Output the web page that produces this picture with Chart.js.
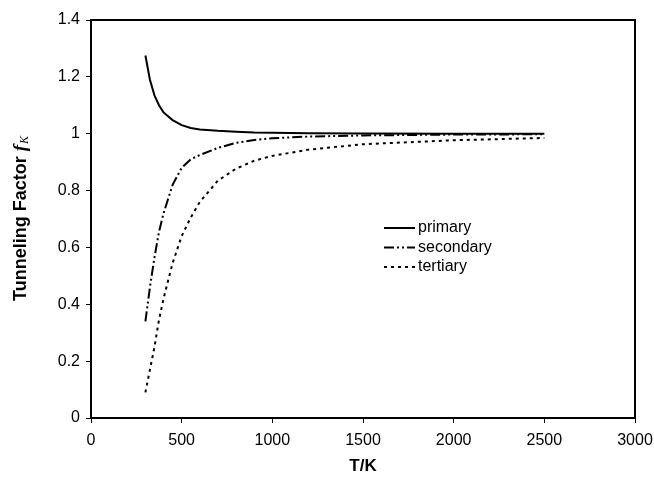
<!DOCTYPE html>
<html>
<head>
<meta charset="utf-8">
<script src="https://cdn.jsdelivr.net/npm/chart.js@4/dist/chart.umd.min.js"></script>
<style>
html,body{margin:0;padding:0;background:#fff;}
#wrap{width:654px;height:481px;position:relative;}
</style>
</head>
<body>
<div id="wrap"><canvas id="c" width="654" height="481"></canvas></div>
<script>
const temperatures = [300, 325, 350, 375, 400, 450, 500, 550, 600, 700, 800, 900, 1000, 1200, 1500, 2000, 2500];
const primary   = [1.275, 1.19, 1.135, 1.10, 1.075, 1.048, 1.03, 1.02, 1.015, 1.01, 1.007, 1.004, 1.003, 1.002, 1.001, 1.0, 1.0];
const secondary = [0.34, 0.46, 0.565, 0.655, 0.72, 0.82, 0.88, 0.91, 0.925, 0.95, 0.968, 0.978, 0.984, 0.99, 0.994, 0.997, 0.998];
const tertiary  = [0.09, 0.17, 0.25, 0.345, 0.42, 0.545, 0.64, 0.705, 0.76, 0.835, 0.877, 0.905, 0.922, 0.944, 0.963, 0.977, 0.985];
const seriesNames = ['primary', 'secondary', 'tertiary'];
const xTicks = [0, 500, 1000, 1500, 2000, 2500, 3000];
const yTicks = [0, 0.2, 0.4, 0.6, 0.8, 1, 1.2, 1.4];
const xTitle = 'T/K';
const yTitle = 'Tunneling Factor ';
const yTitleSymbol = 'f';
const yTitleSub = 'K';

const FONT = '"Liberation Sans", Arial, sans-serif';
const dashes = [[], [10, 3, 2, 3, 2, 3], [3, 4]];

function pts(arr) { return temperatures.map((t, i) => ({x: t, y: arr[i]})); }

const datasets = [primary, secondary, tertiary].map((arr, i) => ({
  label: seriesNames[i],
  data: pts(arr),
  borderColor: '#000',
  borderWidth: 2,
  borderDash: dashes[i],
  pointRadius: 0,
  tension: 0,
  fill: false
}));

const framePlugin = {
  id: 'frame',
  afterDatasetsDraw(chart) {
    const {ctx, chartArea: a} = chart;
    ctx.save();
    ctx.strokeStyle = '#000';
    ctx.lineWidth = 2;
    ctx.strokeRect(a.left, a.top, a.right - a.left, a.bottom - a.top);
    // legend inside plot
    ctx.font = '16px ' + FONT;
    ctx.fillStyle = '#000';
    ctx.textBaseline = 'middle';
    const lx = 384, ly = 228, step = 19.5;
    seriesNames.forEach((n, i) => {
      const y = ly + i * step;
      ctx.beginPath();
      ctx.setLineDash(dashes[i]);
      ctx.lineWidth = 2;
      ctx.moveTo(lx, y);
      ctx.lineTo(lx + 31, y);
      ctx.stroke();
      ctx.setLineDash([]);
      ctx.fillText(n, lx + 34, y);
    });
    // y axis title with italic symbol and subscript
    ctx.translate(21, (a.top + a.bottom) / 2);
    ctx.rotate(-Math.PI / 2);
    ctx.textBaseline = 'middle';
    const f1 = 'bold 18px ' + FONT;
    const f2 = 'italic bold 19px "Liberation Serif", "Times New Roman", serif';
    const f3 = 'italic 12px "Liberation Serif", "Times New Roman", serif';
    ctx.font = f1; const w1 = ctx.measureText(yTitle).width;
    ctx.font = f2; const w2 = ctx.measureText(yTitleSymbol).width;
    ctx.font = f3; const w3 = ctx.measureText(yTitleSub).width;
    let x = -(w1 + w2 + w3) / 2;
    ctx.textAlign = 'left';
    ctx.font = f1; ctx.fillText(yTitle, x, 0); x += w1;
    ctx.font = f2; ctx.fillText(yTitleSymbol, x, 0); x += w2 + 1;
    ctx.font = f3; ctx.fillText(yTitleSub, x, 4);
    ctx.restore();
  }
};

new Chart(document.getElementById('c'), {
  type: 'line',
  data: {datasets},
  options: {
    responsive: false,
    animation: false,
    layout: {padding: {left: 0, right: 19, top: 20, bottom: 0}},
    plugins: {legend: {display: false}, tooltip: {enabled: false}},
    scales: {
      x: {
        type: 'linear', min: 0, max: 3000,
        afterBuildTicks(s) { s.ticks = xTicks.map(v => ({value: v})); },
        afterFit(s) { s.height = 63; s.paddingLeft = 0; s.paddingRight = 0; },
        grid: {display: true, drawOnChartArea: false, drawTicks: true, tickLength: 5, color: '#000', lineWidth: 1},
        border: {display: false},
        ticks: {color: '#000', font: {family: FONT, size: 16}, padding: 8, maxRotation: 0, callback: v => String(v)},
        title: {display: true, text: xTitle, color: '#000', font: {family: FONT, size: 17, weight: 'bold'}, padding: {top: 6}}
      },
      y: {
        type: 'linear', min: 0, max: 1.4,
        afterBuildTicks(s) { s.ticks = yTicks.map(v => ({value: v})); },
        afterFit(s) { s.width = 91; s.paddingTop = 0; s.paddingBottom = 0; },
        grid: {display: true, drawOnChartArea: false, drawTicks: true, tickLength: 5, color: '#000', lineWidth: 1},
        border: {display: false},
        ticks: {color: '#000', font: {family: FONT, size: 16}, padding: 6, callback: v => String(v)}
      }
    }
  },
  plugins: [framePlugin]
});
</script>
</body>
</html>
